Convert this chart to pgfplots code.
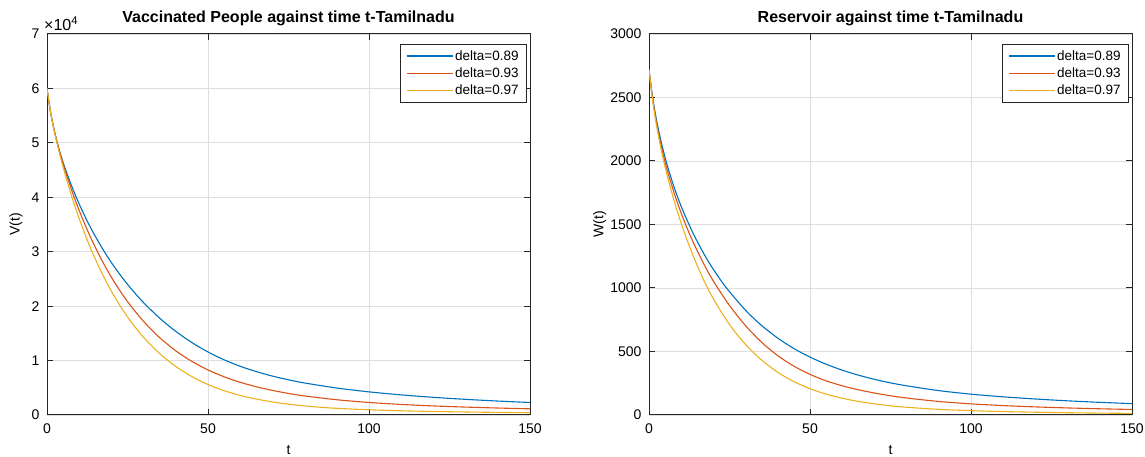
\documentclass[border=0pt]{standalone}
\usepackage{fontspec}
\setmainfont{Liberation Sans}
\usepackage{pgfplots}
\pgfplotsset{compat=1.18}
\definecolor{mblue}{rgb}{0,0.447,0.741}
\definecolor{mred}{rgb}{0.850,0.325,0.098}
\definecolor{myel}{rgb}{0.929,0.694,0.125}
\definecolor{axgray}{RGB}{38,38,38}
\definecolor{gridgray}{RGB}{222,222,222}

\pgfplotsset{
  mstyle/.style={
    scale only axis, width=483pt, height=381pt,
    xmin=0, xmax=150, xtick={0,50,100,150},
    grid=major, grid style={gridgray, line width=0.9pt},
    axis line style={axgray, line width=1pt},
    tick style={axgray, line width=1pt},
    tick align=inside, major tick length=6pt,
    tick label style={font=\fontsize{14}{16}\selectfont, color=black},
    /pgf/number format/assume math mode=true,
    /pgf/number format/1000 sep={},
    xticklabel style={yshift=-5pt},
    yticklabel style={xshift=-4pt},
    label style={font=\fontsize{14}{16}\selectfont},
    xlabel style={at={(axis description cs:0.5,-0.092)}, anchor=center},
    title style={font=\bfseries\fontsize{16}{19}\selectfont, at={(axis description cs:0.5,1)}, anchor=south, yshift=-1pt},
    legend style={at={(axis description cs:1,1)}, anchor=north east, xshift=-3pt, yshift=-10pt,
      draw=axgray, line width=0.8pt, font=\fontsize{13.5}{16}\selectfont,
      inner xsep=6pt, inner ysep=4pt, row sep=2pt},
    legend cell align=left,
    legend image code/.code={\draw[#1, line width=1.1pt] (0pt,0pt) -- (46pt,0pt);},
    every axis plot/.append style={line width=1.1pt, smooth},
  }
}

\begin{document}
\begin{tikzpicture}
\useasboundingbox (0,0) rectangle (1145pt,457pt);

% left: vaccinated people
\begin{axis}[mstyle, at={(47pt,42pt)},
  ymin=0, ymax=70000, ytick={0,10000,20000,30000,40000,50000,60000,70000},
  scaled y ticks=base 10:-4,
  ytick scale label code/.code={\fontsize{16}{18}\selectfont ×10\textsuperscript{#1}},
  every y tick scale label/.style={at={(axis description cs:0,1)}, anchor=south west, inner sep=0pt, xshift=1pt, yshift=3pt},
  xlabel={t}, ylabel={V(t)},
  ylabel style={at={(axis description cs:-0.064,0.5)}, anchor=center},
  title={Vaccinated People against time t-Tamilnadu},
]
\addplot[mblue] coordinates {(0,60000) (1,56000) (2,52950) (3,50470) (4,48300) (5,46410) (6,44700) (8,41560) (10,38760) (12,36230) (14,33910) (17,30780) (20,28000) (23,25530) (26,23290) (30,20640) (35,17790) (40,15360) (45,13310) (50,11580) (55,10140) (60,8950) (65,7970) (70,7150) (75,6460) (80,5880) (90,4955) (100,4249) (110,3694) (120,3244) (130,2875) (140,2562) (150,2299)};
\addplot[mred] coordinates {(0,60000) (1,56000) (2,52950) (3,50440) (4,48170) (5,46130) (6,44240) (8,40740) (10,37580) (12,34700) (14,32050) (17,28470) (20,25310) (23,22520) (26,20060) (30,17190) (35,14210) (40,11790) (45,9850) (50,8280) (55,7020) (60,6010) (65,5190) (70,4520) (75,3960) (80,3500) (90,2800) (100,2300) (110,1940) (120,1665) (130,1453) (140,1280) (150,1136)};
\addplot[myel] coordinates {(0,60000) (1,56000) (2,52850) (3,50210) (4,47780) (5,45550) (6,43470) (8,39590) (10,36090) (12,32910) (14,30010) (17,26130) (20,22740) (23,19790) (26,17210) (30,14270) (35,11280) (40,8920) (45,7050) (50,5590) (55,4470) (60,3600) (65,2930) (70,2400) (75,1988) (80,1669) (85,1420) (90,1225) (100,954) (110,775) (120,647) (130,553) (140,478) (150,418)};
\legend{delta=0.89,delta=0.93,delta=0.97}
\end{axis}

% right: reservoir
\begin{axis}[mstyle, at={(649pt,42pt)},
  ymin=0, ymax=3000, ytick={0,500,1000,1500,2000,2500,3000},
  xlabel={t}, ylabel={W(t)},
  ylabel style={at={(axis description cs:-0.102,0.5)}, anchor=center},
  title={Reservoir against time t-Tamilnadu},
]
\addplot[mblue] coordinates {(0,2720) (1,2524) (2,2368) (3,2240) (4,2126) (5,2026) (6,1936) (8,1778) (10,1642) (12,1524) (14,1415) (17,1271) (20,1146) (24,1002) (30,824) (35,704) (40,605) (45,523) (50,456) (55,400) (60,353) (65,314) (70,281) (75,253) (80,230) (90,192) (100,164) (110,143) (120,126) (130,111.5) (140,99.7) (150,89.5)};
\addplot[mred] coordinates {(0,2720) (1,2511) (2,2346) (3,2211) (4,2093) (5,1990) (6,1898) (8,1733) (10,1589) (12,1461) (14,1345) (17,1190) (20,1054) (25,862) (30,703) (35,572) (40,467) (45,385) (50,320) (55,269) (60,230) (65,198.7) (70,173) (75,151.6) (80,133.7) (90,106.5) (100,87.6) (110,74) (120,63.7) (130,55.6) (140,48.9) (150,43.3)};
\addplot[myel] coordinates {(0,2720) (1,2502) (2,2330) (3,2188) (4,2062) (5,1952) (6,1852) (8,1670) (10,1509) (12,1366) (14,1236) (17,1062) (20,914) (25,712) (30,555) (35,432) (40,336) (45,263) (50,207) (55,164.6) (60,132.1) (65,107.1) (70,87.7) (75,72.6) (80,60.8) (90,44.4) (100,34.1) (110,27) (120,21.9) (130,17.9) (140,14.9) (150,12.5)};
\legend{delta=0.89,delta=0.93,delta=0.97}
\end{axis}
\end{tikzpicture}
\end{document}
